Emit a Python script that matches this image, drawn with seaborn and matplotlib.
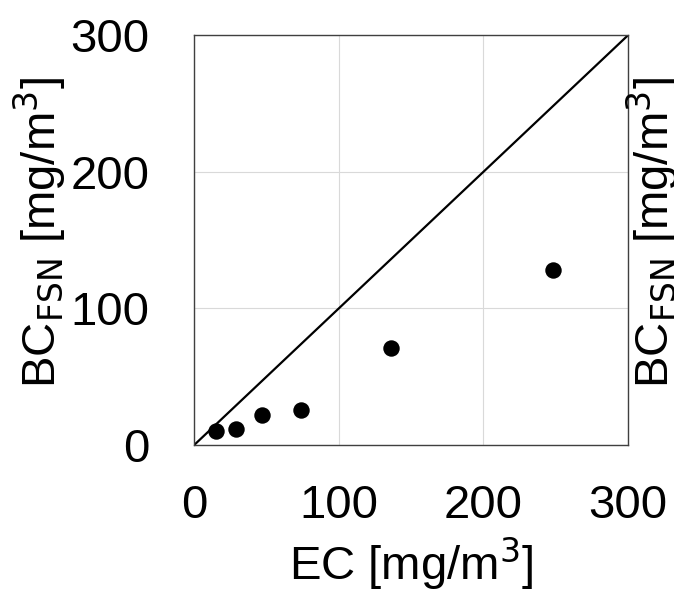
import matplotlib
matplotlib.use('Agg')
import matplotlib.pyplot as plt
import seaborn as sns
import pandas as pd

# EC vs BC_FSN, mg/m3
ec = [15, 29, 47, 74, 136, 248]
bc = [10, 12, 22, 26, 71, 128]
ticks = [0, 100, 200, 300]

sns.set_style('white')
plt.rcParams['font.family'] = ['Liberation Sans', 'DejaVu Sans']
plt.rcParams['text.color'] = 'black'
plt.rcParams['xtick.color'] = 'black'
plt.rcParams['ytick.color'] = 'black'

df = pd.DataFrame({'EC': ec, 'BC': bc})

fig = plt.figure(figsize=(6.74, 5.95), dpi=100)
ax = fig.add_axes([0.288, 0.252, 0.644, 0.689])

ax.plot([0, 300], [0, 300], color='black', lw=1.6, zorder=2)
sns.scatterplot(data=df, x='EC', y='BC', ax=ax, color='black', s=140,
                edgecolor='black', linewidth=0, zorder=3, clip_on=False)

ax.set_xlim(0, 300)
ax.set_ylim(0, 300)
ax.set_xticks(ticks)
ax.set_yticks(ticks)
ax.grid(True, color='#d9d9d9', lw=0.8)
ax.set_axisbelow(True)
for sp in ax.spines.values():
    sp.set_color('#404040')
    sp.set_linewidth(1.0)
ax.tick_params(axis='both', length=0, labelsize=34, pad=32)
ax.tick_params(axis='x', pad=28)
ax.set_xlabel('')
ax.set_ylabel('')

fig.text(0.61, 0.005, 'EC [mg/m$^3$]', fontsize=34, ha='center', va='bottom')
fig.text(0.058, 0.61, 'BC$_{\\mathrm{FSN}}$ [mg/m$^3$]', fontsize=34,
         rotation=90, ha='center', va='center')
# label of the neighbouring panel, cut at the right edge
fig.text(0.968, 0.61, 'BC$_{\\mathrm{FSN}}$ [mg/m$^3$]', fontsize=34,
         rotation=90, ha='center', va='center')

fig.savefig('out.png', dpi=100)
